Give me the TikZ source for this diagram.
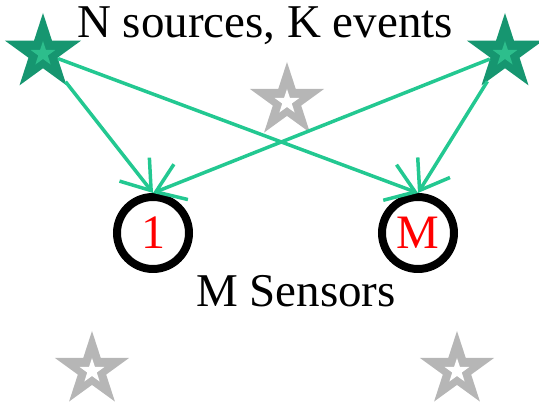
\documentclass[tikz,border=0pt]{standalone}
\usepackage{fontspec}
\setmainfont{Liberation Serif}
\newfontfamily\timesface{Liberation Serif}
\usetikzlibrary{shapes.geometric,arrows.meta}
\definecolor{srcdark}{RGB}{22,150,112}
\definecolor{srclight}{RGB}{45,190,140}
\definecolor{ray}{RGB}{35,200,145}
\definecolor{idle}{RGB}{182,182,182}
\tikzset{
  starbase/.style={star, star points=5, star point ratio=2.618, inner sep=0pt, draw=none},
  source/.style={starbase, fill=srcdark, minimum size=80pt},
  sourcecore/.style={starbase, fill=srclight, minimum size=26pt},
  silent/.style={starbase, fill=idle, minimum size=78pt},
  silentcore/.style={starbase, fill=white, minimum size=26pt},
  sensor/.style={circle, draw=black, line width=8pt, minimum size=72pt, inner sep=0pt,
    text=red, font=\timesface\fontsize{48}{56}\selectfont},
  label/.style={font=\timesface\fontsize{47}{56}\selectfont, inner sep=0pt,
    text height=34pt, text depth=10pt},
  ray/.style={draw=ray, line width=3.5pt, -{Straight Barb[length=27pt, width=38pt]}}
}
\begin{document}
\begin{tikzpicture}[x=1pt, y=1pt]
  \useasboundingbox (0,0) rectangle (539,409);
  % inactive candidate positions
  \node[silent] (g1) at (287,308) {};
  \node[silentcore] (g1c) at (287,307) {};
  \node[silent] (g2) at (92,39) {};
  \node[silentcore] (g2c) at (92,38) {};
  \node[silent] (g3) at (457,39) {};
  \node[silentcore] (g3c) at (457,38) {};
  % labels
  \node[label, anchor=base] (title) at (265,371) {N sources, K events};
  \node[label, anchor=base] (sens) at (296,102) {M Sensors};
  % active sources
  \node[source] (sL) at (43,356) {};
  \node[sourcecore] (sLc) at (43,355) {};
  \node[source] (sR) at (505,356) {};
  \node[sourcecore] (sRc) at (505,355) {};
  % sensors
  \node[sensor] (m1) at (153,176) {1};
  \node[sensor] (mM) at (418,176) {M};
  % propagation paths
  \draw[ray] (sL) -- (m1.north);
  \draw[ray] (sL) -- (mM.north);
  \draw[ray] (sR) -- (m1.north);
  \draw[ray] (sR) -- (mM.north);
\end{tikzpicture}
\end{document}
